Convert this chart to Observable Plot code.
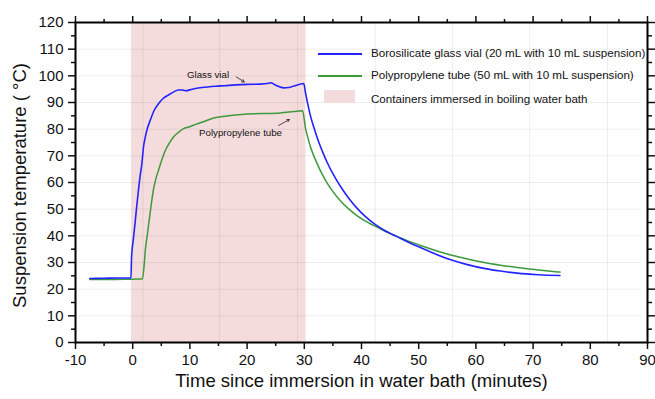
<!DOCTYPE html>
<html>
<head>
<meta charset="utf-8">
<script src="https://cdn.jsdelivr.net/npm/d3@7"></script>
<script src="https://cdn.jsdelivr.net/npm/@observablehq/plot@0.6"></script>
<style>
  html, body { margin: 0; padding: 0; background: #fff; }
  #wrap { position: relative; width: 655px; height: 399px; font-family: "Liberation Sans", Arial, sans-serif; }
  #legend { position: absolute; left: 318px; top: 45px; font-size: 11.6px; color: #111; }
  .row { position: absolute; white-space: nowrap; }
  .sw { position: absolute; }
  .lab { position: absolute; left: 53px; top: -8px; }
</style>
</head>
<body>
<div id="wrap"></div>
<script>
// ---- data ----
const glassX = [-7.5,-5,-2.5,-0.3,-0.2,0.1,0.4,0.7,1.0,1.3,1.6,1.9,2.2,2.6,3.1,3.7,4.5,5.3,6.3,7.1,8,8.6,9.2,10.4,12.1,14.5,16,18,20,22.3,23.5,24.1,25,26.4,27.3,28.2,29.9,30.2,30.6,31.1,31.7,32.3,33.2,34,35,35.7,36.8,37.8,39.2,40.7,42.5,44.2,45.5,46.8,48.5,50.3,53,55.6,58.5,61.4,64.3,67.2,71,74.7];
const glassY = [24.0,24.1,24.2,24.2,32,38.5,44.5,51,57,62.5,67,73.5,77,80.5,83.5,86.8,89.5,91.5,92.9,93.9,94.7,94.7,94.4,95.0,95.6,96.1,96.3,96.6,96.8,96.9,97.1,97.4,96.5,95.5,95.6,96.2,97.1,93.8,89.5,84.8,80.5,76.5,71.5,67.5,63.3,60.7,57,54,50.4,47.2,44.1,41.8,40.4,39.1,37.3,35.6,33.1,31.0,29.2,27.8,26.8,26.0,25.4,25.1];
const ppX = [-7.5,-4,-1,1.0,1.7,2.0,2.2,2.5,2.8,3.2,3.6,4.0,4.5,5.1,5.7,6.4,7.1,8.0,8.9,9.8,11,12.5,13.9,16.8,19,21.2,23.5,25.8,28.2,29.7,30.2,30.6,31.1,31.7,32.3,33.1,34,35.1,36.3,37.7,39.2,40.7,42.2,43.7,45.1,46.5,48,49.8,51.5,53.5,55.6,58.5,61.4,64.3,67.2,71,74.7];
const ppY = [23.6,23.6,23.7,23.8,23.8,29,34.5,39.5,44.5,51,57,61,64.5,68.5,72,74.8,77,78.8,80.2,80.8,81.8,82.9,84,85,85.5,85.8,85.9,86.1,86.6,86.9,80.5,77,73.2,69.8,66.8,63.2,59.8,56.3,53.2,50.2,47.6,45.5,43.8,42.2,40.8,39.5,38.2,36.8,35.5,34.1,32.8,31.3,30.0,29.0,28.15,27.2,26.4];
const immersion = [-0.2, 30.3];
const xTicks = [-10,0,10,20,30,40,50,60,70,80,90];
const xMinor = [-5,5,15,25,35,45,55,65,75,85];
const yTicks = [0,10,20,30,40,50,60,70,80,90,100,110,120];
const yMinor = [5,15,25,35,45,55,65,75,85,95,105,115];
const gridX = [1.8,15.2,28.8,42.4,55.9,69.4,83];
const gridY = [10,20,30,40,50,60,70,80,90,100,110];
const seriesNames = ["Borosilicate glass vial (20 mL with 10 mL suspension)", "Polypropylene tube (50 mL with 10 mL suspension)", "Containers immersed in boiling water bath"];
const annotations = [
  {x: 9.5, y: 100.3, text: "Glass vial", ax1: 18.1, ay1: 99.6, ax2: 19.5, ay2: 97.7},
  {x: 11.6, y: 78.6, text: "Polypropylene tube", ax1: 25.5, ay1: 81.4, ax2: 27.4, ay2: 83.6}
];
const xTitle = "Time since immersion in water bath (minutes)";
const yTitle = "Suspension temperature ( °C)";

const BLUE = "#2323ff", GREEN = "#3c9a3c", PINK = "#f5dcdc";

const glass = glassX.map((x, i) => ({x, y: glassY[i]}));
const pp = ppX.map((x, i) => ({x, y: ppY[i]}));
const fmt = d => String(d);

const chart = Plot.plot({
  width: 655, height: 399,
  marginLeft: 75, marginRight: 8, marginTop: 22, marginBottom: 57,
  style: {fontFamily: "Liberation Sans, Arial, sans-serif", color: "#111", background: "#fff"},
  x: {domain: [-10, 90]},
  y: {domain: [0, 120]},
  marks: [
    Plot.rectX([immersion], {x1: d => d[0], x2: d => d[1], y1: 0, y2: 120, fill: PINK}),
    Plot.ruleX(gridX, {y1: 0, y2: 120, stroke: "#000", strokeOpacity: 0.07}),
    Plot.ruleY(gridY, {x1: -10, x2: 89, stroke: "#000", strokeOpacity: 0.07}),
    Plot.line(pp, {x: "x", y: "y", stroke: GREEN, strokeWidth: 1.5, curve: "monotone-x"}),
    Plot.line(glass, {x: "x", y: "y", stroke: BLUE, strokeWidth: 1.6, curve: "monotone-x"}),
    Plot.text(annotations, {x: "x", y: "y", text: "text", textAnchor: "start", fontSize: 9.7, fill: "#111"}),
    Plot.arrow(annotations, {x1: "ax1", y1: "ay1", x2: "ax2", y2: "ay2", stroke: "#222", strokeWidth: 0.8, headLength: 5}),
    Plot.axisX({ticks: xTicks, tickFormat: fmt, tickSize: 7, tickPadding: 5, fontSize: 15, label: null, strokeWidth: 1.5}),
    Plot.axisX({ticks: xMinor, tickSize: 4, text: null, label: null, strokeWidth: 1.5}),
    Plot.axisX({anchor: "top", ticks: xTicks, tickSize: 7, text: null, label: null, strokeWidth: 1.5}),
    Plot.axisX({anchor: "top", ticks: xMinor, tickSize: 4, text: null, label: null, strokeWidth: 1.5}),
    Plot.axisY({ticks: yTicks, tickFormat: fmt, tickSize: 7, tickPadding: 5, fontSize: 15, label: null, strokeWidth: 1.5}),
    Plot.axisY({ticks: yMinor, tickSize: 4, text: null, label: null, strokeWidth: 1.5}),
    Plot.axisY({anchor: "right", ticks: yTicks, tickSize: 7, text: null, label: null, strokeWidth: 1.5}),
    Plot.axisY({anchor: "right", ticks: yMinor, tickSize: 4, text: null, label: null, strokeWidth: 1.5}),
    Plot.frame({stroke: "#000", strokeWidth: 2}),
    Plot.text([xTitle], {frameAnchor: "bottom", dy: 44, fontSize: 18.5, fill: "#111"}),
    Plot.text([yTitle], {frameAnchor: "left", dx: -55, dy: 3, rotate: -90, textAnchor: "middle", fontSize: 18.5, fill: "#111"})
  ]
});

const wrap = document.getElementById("wrap");
wrap.appendChild(chart);

// legend overlay
const leg = document.createElement("div");
leg.id = "legend";
const rows = [
  {top: 9, kind: "line", color: BLUE},
  {top: 31, kind: "line", color: GREEN},
  {top: 55, kind: "rect", color: PINK}
];
rows.forEach((r, i) => {
  const row = document.createElement("div");
  row.className = "row";
  row.style.top = r.top + "px";
  const sw = document.createElement("div");
  sw.className = "sw";
  if (r.kind === "line") {
    sw.style.left = "0px"; sw.style.top = "-1px"; sw.style.width = "44px"; sw.style.height = "2px";
    sw.style.background = r.color;
  } else {
    sw.style.left = "6px"; sw.style.top = "-10px"; sw.style.width = "31px"; sw.style.height = "13px";
    sw.style.background = r.color;
  }
  const lab = document.createElement("div");
  lab.className = "lab";
  lab.textContent = seriesNames[i];
  row.appendChild(sw);
  row.appendChild(lab);
  leg.appendChild(row);
});
wrap.appendChild(leg);
</script>
</body>
</html>
